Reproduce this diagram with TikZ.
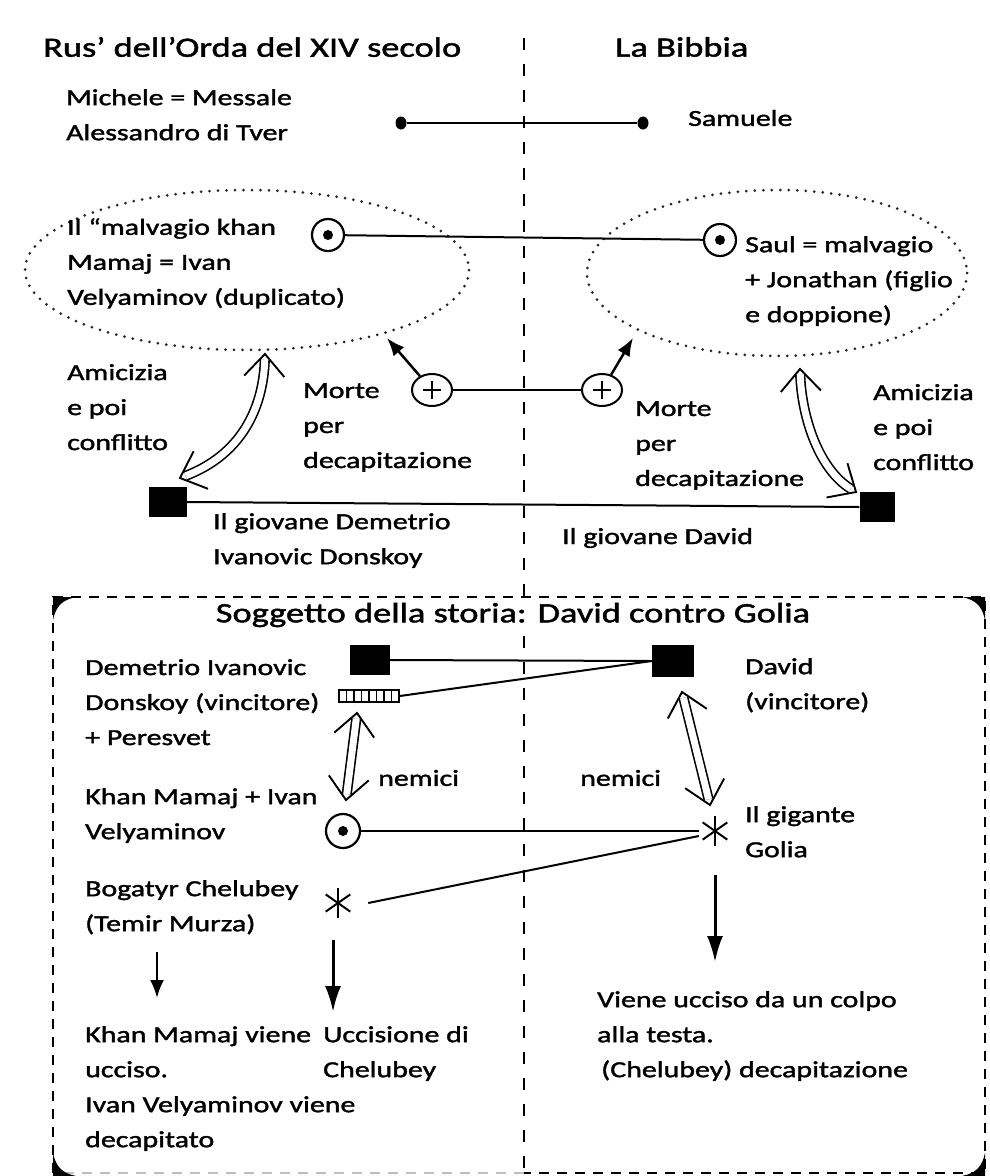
\documentclass[tikz,border=0pt]{standalone}
\usepackage{fontspec}
\setmainfont{Carlito}[FakeStretch=1.3,FakeBold=1.6]
\usetikzlibrary{arrows.meta,shapes.geometric,calc}
\newcommand\mychev[2]{\draw[line width=1.9pt, line join=miter] ($(#1)!30pt!42:(#2)$) -- (#1) -- ($(#1)!30pt!-42:(#2)$);}
\begin{document}
\begin{tikzpicture}[x=1pt,y=-1pt,
  txt/.style={font=\fontsize{23}{35}\selectfont, align=left, inner sep=0pt, anchor=north west},
  ttl/.style={font=\fontsize{28}{34}\selectfont, inner sep=0pt, anchor=west},
  ln/.style={line width=2pt},
  dotell/.style={line width=3pt, line cap=round, dash pattern=on 0pt off 8.5pt, black!85},
  cdot/.style={circle, draw, line width=2.2pt, minimum size=32pt, inner sep=0pt,
     path picture={\fill (path picture bounding box.center) circle (5pt);}},
  pluscirc/.style={ellipse, draw, line width=2pt, minimum width=40pt, minimum height=32pt, inner sep=0pt,
     path picture={\draw[line width=2pt] ([xshift=-9pt]path picture bounding box.center) -- ([xshift=9pt]path picture bounding box.center);
                   \draw[line width=2pt] ([yshift=-9pt]path picture bounding box.center) -- ([yshift=9pt]path picture bounding box.center);}},
  blk/.style={rectangle, fill=black, inner sep=0pt},
  dotn/.style={ellipse, fill=black, minimum width=11pt, minimum height=13pt, inner sep=0pt},
  ast/.style={circle, minimum size=32pt, inner sep=0pt,
     path picture={\foreach \a in {90,35,145}{\draw[line width=2pt] ([shift={(\a:15pt)}]path picture bounding box.center) -- ([shift={(\a+180:15pt)}]path picture bounding box.center);}}},
  hatch/.style={rectangle, draw, line width=1.5pt, minimum width=60pt, minimum height=12pt, inner sep=0pt,
     path picture={\foreach \i in {1,...,7}{\draw[line width=1.5pt] ([xshift=\i*7.5pt]path picture bounding box.south west) -- ([xshift=\i*7.5pt]path picture bounding box.north west);}}},
  dbl/.style={double distance=7pt, line width=1.6pt, shorten <=6pt, shorten >=6pt},
  darr/.style={line width=3pt, -{Latex[length=26pt,width=16pt]}},
  sarr/.style={line width=2.5pt, -{Latex[length=18pt,width=14pt]}},
  box/.style={line width=2.5pt, dash pattern=on 10pt off 8pt}
]
\useasboundingbox (0,0) rectangle (990,1176);
\fill[white] (0,0) rectangle (990,1176);

% central dashed divider
\draw[line width=2pt, dash pattern=on 12pt off 14pt] (524,38) -- (524,1176);

% titles
\node[ttl] (t1) at (43,47) {Rus’ dell’Orda del XIV secolo};
\node[ttl] (t2) at (615,47) {La Bibbia};

% top row
\node[txt] (michele) at (66,89) {Michele = Messale\\Alessandro di Tver};
\node[dotn] (d1) at (401,123) {};
\node[dotn] (d2) at (643,123) {};
\node[txt, anchor=west] (samuele) at (688,118) {Samuele};
\draw[ln] (d1) -- (d2);

% ellipses
\draw[dotell] (247,270) ellipse [x radius=222, y radius=80];
\draw[dotell] (777,273) ellipse [x radius=190, y radius=83];
\coordinate (e1a) at (387,338);
\coordinate (e2a) at (633,338);
\coordinate (e1b) at (265,354);
\coordinate (e2b) at (800,369);

\node[txt] (mamaj) at (67,218) {Il “malvagio khan\\Mamaj = Ivan\\Velyaminov (duplicato)};
\node[txt] (saul) at (745,236) {Saul = malvagio\\+ Jonathan (figlio\\e doppione)};
\node[cdot] (c1) at (328,235) {};
\node[cdot] (c2) at (720,240) {};
\draw[ln] (c1) -- (c2);

% death
\node[pluscirc] (p1) at (432,390) {};
\node[pluscirc] (p2) at (602,390) {};
\draw[ln] (p1) -- (p2);
\draw[sarr] (p1) -- (e1a);
\draw[sarr] (p2) -- (e2a);
\node[txt] (morte1) at (303,383) {Morte\\per\\decapitazione};
\node[txt] (morte2) at (635,401) {Morte\\per\\decapitazione};
\node[txt] (amic1) at (67,364) {Amicizia\\e poi\\conflitto};
\node[txt] (amic2) at (873,384) {Amicizia\\e poi\\conflitto};

% young
\node[blk, minimum width=38pt, minimum height=30pt] (s1) at (168,502) {};
\node[blk, minimum width=35pt, minimum height=30pt] (s2) at (877,507) {};
\draw[ln] (s1.east) -- (s2.west);
\coordinate (s1t) at (180,478);
\coordinate (s2t) at (856,492);
\draw[dbl] (e1b) .. controls (263,410) and (240,455) .. (s1t);
\mychev{e1b}{263,410}
\mychev{s1t}{240,455}
\draw[dbl] (e2b) .. controls (802,420) and (820,470) .. (s2t);
\mychev{e2b}{802,420}
\mychev{s2t}{820,470}
\node[txt] (giov1) at (213,513) {Il giovane Demetrio\\Ivanovic Donskoy};
\node[txt, anchor=west] (giov2) at (562,538) {Il giovane David};

% bottom box
\draw[box] (53,1173) -- (53,597) -- (985,597) -- (985,1173) -- (524,1173);
\draw[box, black!25] (524,1173) -- (53,1173);
\fill (53,597) -- (76,597) .. controls (62,600) and (56,606) .. (53,620) -- cycle;
\fill (985,597) -- (962,597) .. controls (976,600) and (982,606) .. (985,620) -- cycle;
\fill (53,1176) -- (76,1176) .. controls (62,1173) and (56,1167) .. (53,1153) -- cycle;
\fill (985,1176) -- (962,1176) .. controls (976,1173) and (982,1167) .. (985,1153) -- cycle;

\node[ttl, anchor=center, fill=white, inner sep=3pt] (sogg) at (513,615) {Soggetto della storia: David contro Golia};

\node[blk, minimum width=40pt, minimum height=30pt] (b1) at (370,660) {};
\node[blk, minimum width=42pt, minimum height=32pt] (b2) at (673,661) {};
\node[hatch] (hr) at (369,696) {};
\draw[ln] (b1.east) -- (b2.west);
\draw[ln] (hr.east) -- (b2.west);
\node[txt] (demetrio) at (85,659) {Demetrio Ivanovic\\Donskoy (vincitore)\\+ Peresvet};
\node[txt] (david) at (745,658) {David\\(vincitore)};

\node[cdot, minimum size=34pt] (c3) at (343,831) {};
\node[ast] (g1) at (715,831) {};
\node[ast] (g2) at (338,903) {};
\draw[ln] (c3.east) -- (g1.west);
\draw[ln] ([yshift=-5pt]g1.west) -- ([xshift=14pt]g2.east);

\coordinate (lt) at (357,713);
\coordinate (lb) at (346,800);
\coordinate (rt) at (682,692);
\coordinate (rb) at (710,805);
\draw[dbl] (lt) -- (lb);
\mychev{lt}{lb}
\mychev{lb}{lt}
\draw[dbl] (rt) -- (rb);
\mychev{rt}{rb}
\mychev{rb}{rt}
\node[txt, anchor=west] (nem1) at (378,778) {nemici};
\node[txt, anchor=west] (nem2) at (580,778) {nemici};
\node[txt] (khan) at (85,788) {Khan Mamaj + Ivan\\Velyaminov};
\node[txt] (gig) at (745,806) {Il gigante\\Golia};
\node[txt] (bog) at (85,880) {Bogatyr Chelubey\\(Temir Murza)};

\coordinate (a1s) at (157,952);
\coordinate (a1e) at (157,998);
\coordinate (a2s) at (333,940);
\coordinate (a2e) at (333,1012);
\coordinate (a3s) at (715,875);
\coordinate (a3e) at (715,962);
\draw[sarr] (a1s) -- (a1e);
\draw[darr] (a2s) -- (a2e);
\draw[darr] (a3s) -- (a3e);

\node[txt] (kmv) at (85,1026) {Khan Mamaj viene\\ucciso.\\Ivan Velyaminov viene\\decapitato};
\node[txt] (ucc) at (323,1026) {Uccisione di\\Chelubey};
\node[txt] (vie) at (597,991) {Viene ucciso da un colpo\\alla testa.\\\hspace*{4pt}(Chelubey) decapitazione};
\end{tikzpicture}
\end{document}
